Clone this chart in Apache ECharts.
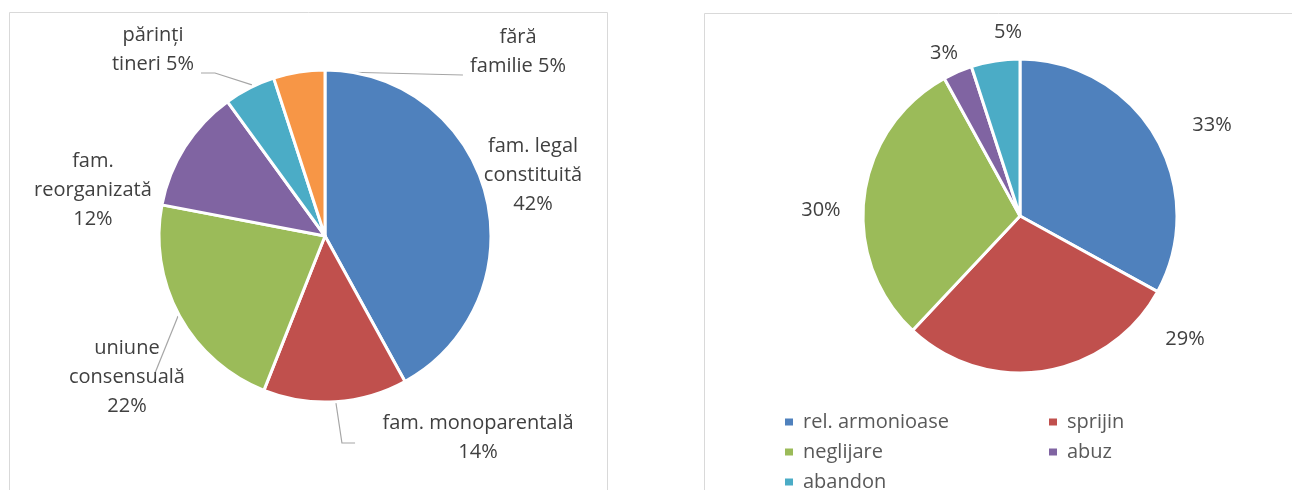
<!DOCTYPE html>
<html>
<head>
<meta charset="utf-8">
<script src="https://cdn.jsdelivr.net/npm/echarts@6/dist/echarts.min.js"></script>
<style>
html,body{margin:0;padding:0;background:#fff;}
#c{width:1292px;height:490px;}
</style>
</head>
<body>
<div id="c"></div>
<script>
// ---- data ----
var leftCategories = ['fam. legal constituită', 'fam. monoparentală', 'uniune consensuală', 'fam. reorganizată', 'părinți tineri', 'fără familie'];
var leftValues = [42, 14, 22, 12, 5, 5];
var leftLabelNames = ['fam. legal\nconstituită', 'fam. monoparentală', 'uniune\nconsensuală', 'fam.\nreorganizată', 'părinți\ntineri', 'fără\nfamilie'];
var leftLabelSep = ['\n', '\n', '\n', '\n', ' ', ' '];

var rightCategories = ['rel. armonioase', 'sprijin', 'neglijare', 'abuz', 'abandon'];
var rightValues = [33, 29, 30, 3, 5];

// ---- styles / layout (in units of pie radius, relative to pie centre) ----
var leftColors = ['#4F81BD', '#C0504D', '#9BBB59', '#8064A2', '#4BACC6', '#F79646'];
var rightColors = ['#4F81BD', '#C0504D', '#9BBB59', '#8064A2', '#4BACC6'];
var FONT = '"Open Sans", sans-serif';
var TXT = '#404040';
var FS = 20;

var LC = [325, 236], LR = 166;
var RC = [1020, 216], RR = 157;

// label centre positions as factors of radius
var leftLabelPos = [[1.253, -0.367], [0.922, 1.217], [-1.193, 0.849], [-1.398, -0.277], [-1.036, -1.120], [1.163, -1.108]];
// leader lines (factors of radius), null = none
var leftLeader = [
  null,
  [[0.066, 1.006], [0.102, 1.247], [0.181, 1.247]],
  [[-0.885, 0.482], [-1.024, 0.825]],
  null,
  [[-0.747, -0.982], [-0.663, -0.982], [-0.440, -0.910]],
  [[-0.139, -0.994], [0.831, -0.970]]
];
var rightLabelPos = [[1.223, -0.580], [1.051, 0.783], [-1.268, -0.038], [-0.484, -1.038], [-0.076, -1.172]];

function pt(c, r, f) { return [c[0] + f[0] * r, c[1] + f[1] * r]; }

var chart = echarts.init(document.getElementById('c'), null, {renderer: 'canvas'});

var option = {
  animation: false,
  backgroundColor: '#ffffff',
  graphic: [
    {type: 'rect', shape: {x: 9.5, y: 12.5, width: 598, height: 500}, style: {fill: 'none', stroke: '#D9D9D9', lineWidth: 1}, silent: true},
    {type: 'rect', shape: {x: 704.5, y: 13.5, width: 600, height: 500}, style: {fill: 'none', stroke: '#D9D9D9', lineWidth: 1}, silent: true}
  ],
  legend: {
    data: rightCategories,
    left: 778,
    top: 407,
    width: 560,
    orient: 'horizontal',
    itemWidth: 10,
    itemHeight: 9,
    itemGap: 10,
    icon: 'rect',
    formatter: function (n) { return '{a|' + n + '}'; },
    textStyle: {
      fontFamily: FONT, fontSize: FS, color: '#595959',
      rich: {a: {fontFamily: FONT, fontSize: FS, color: '#595959', width: 234, lineHeight: 17.5, padding: [0, 0, 0, 4]}}
    },
    selectedMode: false
  },
  series: [
    {
      type: 'pie',
      center: LC,
      radius: LR,
      startAngle: 90,
      clockwise: true,
      legendHoverLink: false,
      itemStyle: {borderColor: '#ffffff', borderWidth: 3},
      color: leftColors,
      label: {
        show: true,
        position: 'outside',
        fontFamily: FONT,
        fontSize: FS,
        lineHeight: 29,
        color: TXT,
        formatter: function (p) {
          return leftLabelNames[p.dataIndex] + leftLabelSep[p.dataIndex] + Math.round(p.percent) + '%';
        }
      },
      labelLine: {show: true, length: 10, length2: 10, lineStyle: {color: '#A6A6A6', width: 1.2}},
      labelLayout: function (params) {
        var i = params.dataIndex;
        var p = pt(LC, LR, leftLabelPos[i]);
        var out = {x: p[0], y: p[1], align: 'center', verticalAlign: 'middle'};
        if (leftLeader[i]) {
          out.labelLinePoints = leftLeader[i].map(function (f) { return pt(LC, LR, f); });
        } else {
          var a = pt(LC, LR, [0, 0]);
          out.labelLinePoints = [a, a, a];
        }
        return out;
      },
      data: leftCategories.map(function (c, i) { return {name: c, value: leftValues[i]}; })
    },
    {
      type: 'pie',
      center: RC,
      radius: RR,
      startAngle: 90,
      clockwise: true,
      itemStyle: {borderColor: '#ffffff', borderWidth: 3},
      color: rightColors,
      label: {
        show: true,
        position: 'outside',
        fontFamily: FONT,
        fontSize: FS,
        color: TXT,
        formatter: function (p) { return Math.round(p.percent) + '%'; }
      },
      labelLine: {show: false, length: 15, length2: 0},
      labelLayout: function (params) {
        var p = pt(RC, RR, rightLabelPos[params.dataIndex]);
        return {x: p[0], y: p[1], align: 'center', verticalAlign: 'middle'};
      },
      data: rightCategories.map(function (c, i) { return {name: c, value: rightValues[i]}; })
    }
  ]
};
chart.setOption(option);
</script>
</body>
</html>
